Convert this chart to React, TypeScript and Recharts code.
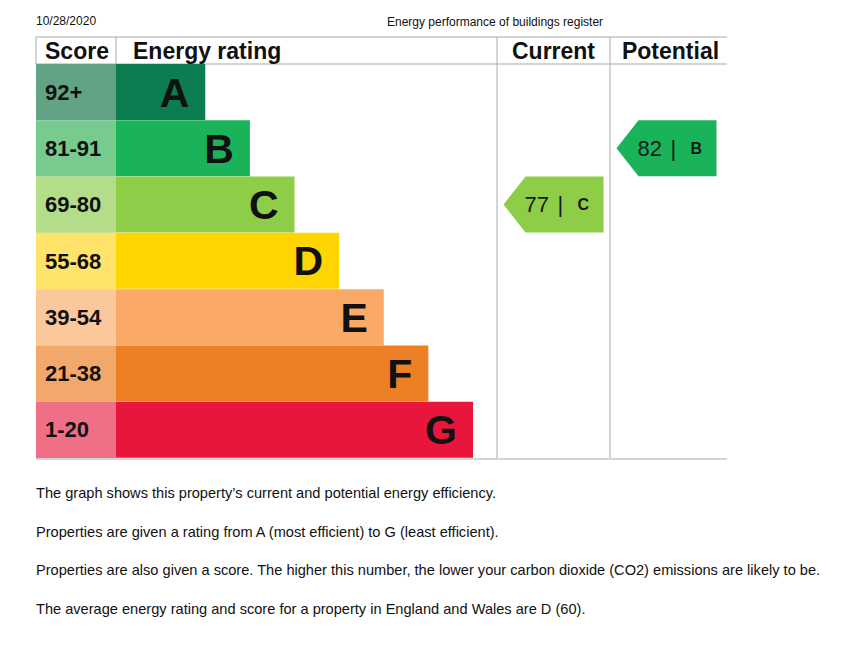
import { Bar, BarChart, Cell, Customized, LabelList, XAxis, YAxis } from 'recharts'

// EPC rating bands, best first
const ratings = ['A', 'B', 'C', 'D', 'E', 'F', 'G']
const scoreBands = ['92+', '81-91', '69-80', '55-68', '39-54', '21-38', '1-20']
const barLengths = [2, 3, 4, 5, 6, 7, 8]
const ratingColors = ['#0c7d51', '#1ab35a', '#8dcd47', '#fed500', '#fba966', '#ed8025', '#e8163d']
const bandColors = ['#63a385', '#78cb8e', '#b3dd89', '#ffe36b', '#fbc89c', '#f3a86b', '#ef6f87']

const currentScore = 77
const currentRating = 'C'
const potentialScore = 82
const potentialRating = 'B'

const notes = [
  'The graph shows this property\u2019s current and potential energy efficiency.',
  'Properties are given a rating from A (most efficient) to G (least efficient).',
  'Properties are also given a score. The higher this number, the lower your carbon dioxide (CO2) emissions are likely to be.',
  'The average energy rating and score for a property in England and Wales are D (60).',
]

const W = 859
const H = 645
const FONT = '"Liberation Sans", Arial, Helvetica, sans-serif'
const TABLE_LEFT = 36
const HEADER_TOP = 37
const ROWS_TOP = 64
const ROWS_BOTTOM = 458
const SCORE_W = 80
const BAR_LEFT = TABLE_LEFT + SCORE_W
const BAR_MAX_RIGHT = 473
const CURRENT_LEFT = 497
const POTENTIAL_LEFT = 610
const TABLE_RIGHT = 727
const ROW_H = (ROWS_BOTTOM - ROWS_TOP) / ratings.length
const GRID = '#a9a9a9'

const data = ratings.map((rating, i) => ({
  rating,
  band: scoreBands[i],
  length: barLengths[i],
  current: rating === currentRating ? currentScore : null,
  potential: rating === potentialRating ? potentialScore : null,
}))

function ScoreTick({ y, index }: { y?: number; index?: number }) {
  if (y == null || index == null) return null
  return (
    <g>
      <rect x={TABLE_LEFT} y={y - ROW_H / 2} width={SCORE_W} height={ROW_H} fill={bandColors[index]} />
      <text x={TABLE_LEFT + 9} y={y} dominantBaseline="central" fontSize={22} fontWeight="bold" fill="#111" fontFamily={FONT}>
        {scoreBands[index]}
      </text>
    </g>
  )
}

function ScoreArrow(props: any) {
  const { viewBox, value, colLeft, rating, color } = props
  if (value == null || !viewBox) return null
  const { y, height } = viewBox
  const tip = colLeft + 6.5
  const shoulder = tip + 22
  const right = tip + 100
  const cy = y + height / 2
  const txt = { dominantBaseline: 'central' as const, fill: '#1a1a1a', fontFamily: FONT }
  return (
    <g>
      <polygon
        points={`${tip},${cy} ${shoulder},${y} ${right},${y} ${right},${y + height} ${shoulder},${y + height}`}
        fill={color}
      />
      <text x={tip + 21} y={cy} fontSize={22} {...txt}>{value}</text>
      <text x={tip + 54} y={cy} fontSize={22} {...txt}>|</text>
      <text x={tip + 74} y={cy} fontSize={16} fontWeight="bold" {...txt}>{rating}</text>
    </g>
  )
}

function TableFrame() {
  const head = { fontSize: 23, fontWeight: 'bold' as const, fill: '#111', fontFamily: FONT }
  return (
    <g>
      <line x1={TABLE_LEFT} x2={TABLE_RIGHT} y1={HEADER_TOP} y2={HEADER_TOP} stroke={GRID} />
      <line x1={TABLE_LEFT} x2={TABLE_RIGHT} y1={ROWS_TOP} y2={ROWS_TOP} stroke={GRID} />
      <line x1={TABLE_LEFT} x2={TABLE_RIGHT} y1={ROWS_BOTTOM + 1} y2={ROWS_BOTTOM + 1} stroke={GRID} />
      <line x1={TABLE_LEFT} x2={TABLE_LEFT} y1={HEADER_TOP} y2={ROWS_TOP} stroke={GRID} />
      <line x1={BAR_LEFT} x2={BAR_LEFT} y1={HEADER_TOP} y2={ROWS_TOP} stroke={GRID} />
      <line x1={CURRENT_LEFT} x2={CURRENT_LEFT} y1={HEADER_TOP} y2={ROWS_BOTTOM} stroke={GRID} />
      <line x1={POTENTIAL_LEFT} x2={POTENTIAL_LEFT} y1={HEADER_TOP} y2={ROWS_BOTTOM} stroke={GRID} />
      <text x={TABLE_LEFT + 9} y={59} {...head}>Score</text>
      <text x={BAR_LEFT + 17} y={59} {...head}>Energy rating</text>
      <text x={(CURRENT_LEFT + POTENTIAL_LEFT) / 2} y={59} textAnchor="middle" {...head}>Current</text>
      <text x={(POTENTIAL_LEFT + TABLE_RIGHT) / 2 + 2} y={59} textAnchor="middle" {...head}>Potential</text>
    </g>
  )
}

export default function App() {
  return (
    <div style={{ position: 'absolute', left: 0, top: 0, width: W, height: H, background: '#fff', fontFamily: FONT, color: '#111' }}>
      <div style={{ position: 'absolute', left: 36, top: 14, fontSize: 12 }}>10/28/2020</div>
      <div style={{ position: 'absolute', left: 387, top: 15, fontSize: 12 }}>Energy performance of buildings register</div>

      <BarChart
        width={W}
        height={H}
        data={data}
        layout="vertical"
        margin={{ top: ROWS_TOP, right: W - BAR_MAX_RIGHT, bottom: H - ROWS_BOTTOM, left: TABLE_LEFT }}
        barCategoryGap={0}
      >
        <Customized component={TableFrame} />
        <XAxis type="number" hide domain={[0, 'dataMax']} />
        <YAxis
          type="category"
          dataKey="rating"
          width={SCORE_W}
          axisLine={false}
          tickLine={false}
          tick={<ScoreTick />}
        />
        <Bar dataKey="length" isAnimationActive={false}>
          {data.map((d, i) => (
            <Cell key={d.rating} fill={ratingColors[i]} />
          ))}
          <LabelList
            dataKey="rating"
            position="insideRight"
            offset={16}
            style={{ fontSize: 41, fontWeight: 'bold', fill: '#111', fontFamily: FONT }}
          />
          <LabelList
            dataKey="current"
            content={(p: any) => <ScoreArrow {...p} colLeft={CURRENT_LEFT} rating={currentRating} color={ratingColors[2]} />}
          />
          <LabelList
            dataKey="potential"
            content={(p: any) => <ScoreArrow {...p} colLeft={POTENTIAL_LEFT} rating={potentialRating} color={ratingColors[1]} />}
          />
        </Bar>
      </BarChart>

      {notes.map((t, i) => (
        <div key={i} style={{ position: 'absolute', left: 36, top: 484 + i * 38.5, fontSize: 14.6, lineHeight: '18px', whiteSpace: 'nowrap' }}>
          {t}
        </div>
      ))}
    </div>
  )
}
